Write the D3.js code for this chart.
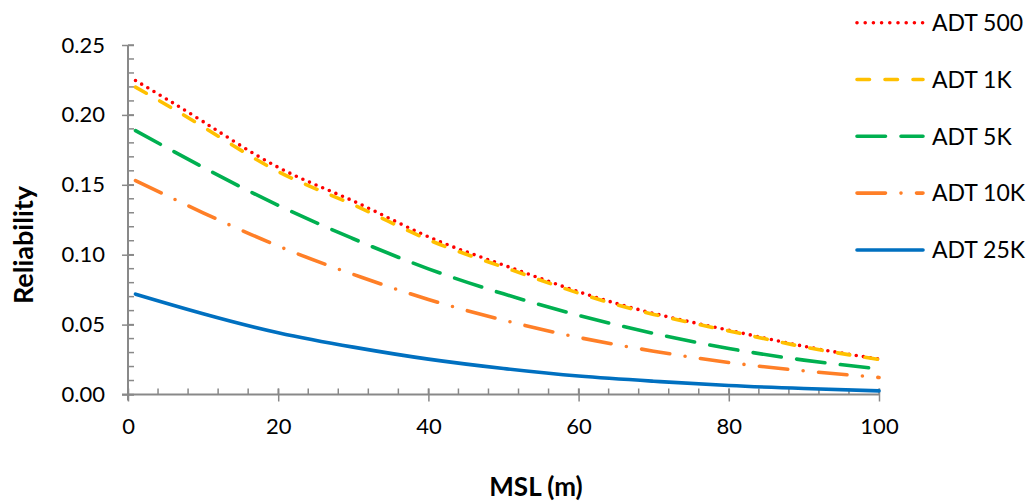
<!DOCTYPE html>
<html>
<head>
<meta charset="utf-8">
<script src="https://cdn.jsdelivr.net/npm/d3@7"></script>
<style>
  html, body { margin: 0; padding: 0; background: #fff; }
  svg { display: block; font-family: Lato, "Open Sans", sans-serif; }
</style>
</head>
<body>
<svg id="chart" width="1029" height="502"></svg>
<script>
// ---- data ----
const msl = [1, 10, 20, 30, 40, 50, 60, 70, 80, 90, 100];
const adt500 = [0.2246, 0.1952, 0.1625, 0.1384, 0.1128, 0.0926, 0.0735, 0.0580, 0.0460, 0.0345, 0.0253];
const adt1k  = [0.2199, 0.1915, 0.1595, 0.1357, 0.1107, 0.0911, 0.0725, 0.0573, 0.0455, 0.0340, 0.0251];
const adt5k  = [0.1888, 0.1625, 0.1353, 0.1114, 0.0899, 0.0720, 0.0566, 0.0437, 0.0329, 0.0246, 0.0183];
const adt10k = [0.1530, 0.1300, 0.1062, 0.0859, 0.0680, 0.0532, 0.0408, 0.0310, 0.0229, 0.0169, 0.0122];
const adt25k = [0.0718, 0.0578, 0.0442, 0.0339, 0.0253, 0.0186, 0.0132, 0.0095, 0.0064, 0.0043, 0.0026];
const seriesNames = ["ADT 500", "ADT 1K", "ADT 5K", "ADT 10K", "ADT 25K"];
const xTicks = [0, 20, 40, 60, 80, 100];
const yTicks = [0, 0.05, 0.10, 0.15, 0.20, 0.25];
const xTitle = "MSL (m)";
const yTitle = "Reliability";

// ---- styles ----
const styles = [
  { color: "#FF0000", dash: "0 7.2" },
  { color: "#FFC000", dash: "12.5 15.5" },
  { color: "#00B050", dash: "28.5 15.5" },
  { color: "#FF7F27", dash: "28.5 15.5 0 15.5" },
  { color: "#0070C0", dash: null }
];
const seriesData = [adt500, adt1k, adt5k, adt10k, adt25k];

const svg = d3.select("#chart");
const x = d3.scaleLinear().domain([0, 100]).range([128, 879]);
const y = d3.scaleLinear().domain([0, 0.25]).range([394.5, 45]);
const axisColor = "#898989";

// minor ticks
const g = svg.append("g");
g.selectAll(".ymin").data(d3.range(0, 0.2501, 0.01)).join("line")
  .attr("x1", x(0)).attr("x2", x(0) + 6)
  .attr("y1", d => y(d)).attr("y2", d => y(d))
  .attr("stroke", axisColor).attr("stroke-width", 1.5);
g.selectAll(".xmin").data(d3.range(0, 100.01, 4)).join("line")
  .attr("x1", d => x(d)).attr("x2", d => x(d))
  .attr("y1", y(0)).attr("y2", y(0) - 6)
  .attr("stroke", axisColor).attr("stroke-width", 1.5);

// y axis
const yAxis = d3.axisLeft(y).tickValues(yTicks).tickFormat(d3.format(".2f")).tickSize(6).tickPadding(17);
const ya = svg.append("g").attr("transform", `translate(${x(0)},0)`).call(yAxis);
ya.select(".domain").attr("stroke", axisColor).attr("stroke-width", 2)
  .attr("d", `M0,${y(0.25)}V${y(0) + 6}`);
ya.selectAll(".tick line").attr("stroke", axisColor).attr("stroke-width", 1.5).attr("x1", 6);
ya.selectAll(".tick text").attr("fill", "#000").attr("font-size", 22).attr("font-family", "Lato");

// x axis
const xAxis = d3.axisBottom(x).tickValues(xTicks).tickFormat(d3.format("d")).tickSize(7).tickPadding(17);
const xa = svg.append("g").attr("transform", `translate(0,${y(0)})`).call(xAxis);
xa.select(".domain").attr("stroke", axisColor).attr("stroke-width", 2)
  .attr("d", `M${x(0) - 6},0H${x(100)}`);
xa.selectAll(".tick line").attr("stroke", axisColor).attr("stroke-width", 1.5).attr("y1", -6);
xa.selectAll(".tick text").attr("fill", "#000").attr("font-size", 22).attr("font-family", "Lato");

// lines
const line = d3.line().x((d, i) => x(msl[i])).y(d => y(d)).curve(d3.curveNatural);
seriesData.forEach((vals, k) => {
  svg.append("path").datum(vals)
    .attr("d", line)
    .attr("fill", "none")
    .attr("stroke", styles[k].color)
    .attr("stroke-width", 3.6)
    .attr("stroke-linecap", "round")
    .attr("stroke-dasharray", styles[k].dash);
});

// legend
const legendY = [22.7, 79.5, 136.3, 193.1, 250];
seriesNames.forEach((name, k) => {
  const ly = legendY[k];
  svg.append("line")
    .attr("x1", 857).attr("x2", 923).attr("y1", ly).attr("y2", ly)
    .attr("stroke", styles[k].color).attr("stroke-width", 3.6)
    .attr("stroke-linecap", "round")
    .attr("stroke-dasharray", k === 0 ? "0 8.2" : styles[k].dash);
  svg.append("text").attr("x", 932).attr("y", ly).attr("dy", "0.36em")
    .attr("font-size", 23).attr("fill", "#000").text(name);
});

// axis titles
svg.append("text").attr("x", 536).attr("y", 487).attr("dy", "0.36em")
  .attr("text-anchor", "middle").attr("font-weight", "bold").attr("font-size", 26)
  .attr("fill", "#000").text(xTitle);
svg.append("text").attr("transform", "translate(23,245) rotate(-90)").attr("dy", "0.36em")
  .attr("text-anchor", "middle").attr("font-weight", "bold").attr("font-size", 27)
  .attr("fill", "#000").text(yTitle);
</script>
</body>
</html>
